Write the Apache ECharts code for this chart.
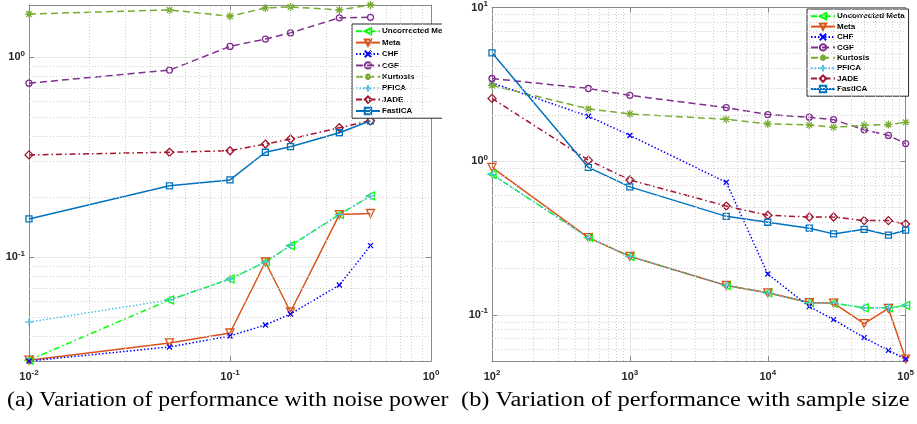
<!DOCTYPE html>
<html><head><meta charset="utf-8">
<script src="https://cdn.jsdelivr.net/npm/echarts@6/dist/echarts.min.js"></script>
<style>html,body{margin:0;padding:0;background:#fff}#c{width:917px;height:424px}</style>
</head><body><div id="c"></div>
<script>
// ---------- data ----------
const seriesNames = ['Uncorrected Meta','Meta','CHF','CGF','Kurtosis','PFICA','JADE','FastICA'];

// (a) noise power
const noiseX = [0.01, 0.05, 0.1, 0.15, 0.2, 0.35, 0.5];
const uncorrA = [0.0305, 0.061, 0.0776, 0.0944, 0.114, 0.163, 0.202];
const metaA   = [0.0305, 0.0372, 0.0417, 0.0944, 0.0531, 0.163, 0.165];
const chfA    = [0.0302, 0.0355, 0.0403, 0.0457, 0.0519, 0.0724, 0.114];
const cgfA    = [0.74, 0.86, 1.13, 1.23, 1.32, 1.57, 1.58];
const kurtA   = [1.64, 1.72, 1.60, 1.76, 1.78, 1.72, 1.82];
const pficaA  = [0.0473, 0.061, 0.0776, 0.0944, 0.114, 0.163, 0.202];
const jadeA   = [0.324, 0.334, 0.34, 0.367, 0.389, 0.443, 0.48];
const fastA   = [0.155, 0.227, 0.243, 0.334, 0.356, 0.418, 0.48];

// (b) sample size
const sampleX = [100, 500, 1000, 5000, 10000, 20000, 30000, 50000, 75000, 100000];
const uncorrB = [0.82, 0.318, 0.24, 0.155, 0.139, 0.12, 0.119, 0.111, 0.111, 0.115];
const metaB   = [0.91, 0.318, 0.24, 0.155, 0.139, 0.12, 0.119, 0.0875, 0.110, 0.0515];
const chfB    = [3.23, 1.96, 1.47, 0.728, 0.184, 0.113, 0.093, 0.071, 0.0586, 0.0515];
const cgfB    = [3.45, 2.97, 2.68, 2.23, 2.01, 1.93, 1.86, 1.60, 1.47, 1.30];
const kurtB   = [3.11, 2.19, 2.03, 1.87, 1.75, 1.72, 1.66, 1.71, 1.73, 1.79];
const pficaB  = [0.82, 0.318, 0.24, 0.155, 0.139, 0.12, 0.119, 0.111, 0.111, 0.115];
const jadeB   = [2.56, 1.015, 0.754, 0.51, 0.444, 0.433, 0.433, 0.41, 0.41, 0.39];
const fastB   = [5.07, 0.91, 0.68, 0.437, 0.40, 0.366, 0.336, 0.36, 0.33, 0.355];

const captionA = '(a) Variation of performance with noise power';
const captionB = '(b) Variation of performance with sample size';

// ---------- styles ----------
const SANS = '"Liberation Sans", Arial, sans-serif';
const SERIF = '"Liberation Serif", "Times New Roman", serif';
const X_PATH = 'path://M0,0L10,10M10,0L0,10';
const PLUS_PATH = 'path://M5,0L5,10M0,5L10,5';
const STAR_PATH = 'path://M5,0L5,10M0,5L10,5M1.5,1.5L8.5,8.5M8.5,1.5L1.5,8.5';
const styles = {
  'Uncorrected Meta': {color:'#00ff00', dash:[6,3,1.5,3], symbol:'triangle', rot:90, size:8},
  'Meta':     {color:'#d95319', dash:'solid', symbol:'triangle', rot:180, size:8},
  'CHF':      {color:'#0000ff', dash:[1.5,2], symbol:X_PATH, rot:0, size:5},
  'CGF':      {color:'#7e2f8e', dash:[7,4], symbol:'circle', rot:0, size:6},
  'Kurtosis': {color:'#77ac30', dash:[7,4], symbol:STAR_PATH, rot:0, size:8},
  'PFICA':    {color:'#4dbeee', dash:[1.5,2], symbol:PLUS_PATH, rot:0, size:8},
  'JADE':     {color:'#a2142f', dash:[6,3,1.5,3], symbol:'diamond', rot:0, size:8},
  'FastICA':  {color:'#0072bd', dash:'solid', symbol:'rect', rot:0, size:6}
};
const dataA = [uncorrA, metaA, chfA, cgfA, kurtA, pficaA, jadeA, fastA];
const dataB = [uncorrB, metaB, chfB, cgfB, kurtB, pficaB, jadeB, fastB];

function mkSeries(name, xs, ys, gi) {
  const s = styles[name];
  return {
    type:'line', name, xAxisIndex: gi*2, yAxisIndex: gi*2,
    data: xs.map((x,i)=>[x, ys[i]]),
    symbol: s.symbol, symbolSize: s.size, symbolRotate: s.rot, showAllSymbol: true,
    color: s.color,
    lineStyle: {color: s.color, width: 1.5, type: s.dash},
    itemStyle: {color: 'rgba(255,255,255,0)', borderColor: s.color, borderWidth: 1.3},
    emphasis: {disabled: true}, animation: false, clip: false
  };
}

function minorVals(lo, hi) {
  const out = [];
  for (let e = Math.floor(Math.log10(lo)); e <= Math.ceil(Math.log10(hi)); e++) {
    for (let k = 2; k <= 9; k++) {
      const v = k * Math.pow(10, e);
      if (v > lo * 1.001 && v < hi * 0.999) out.push(+v.toPrecision(6));
    }
  }
  return out;
}

const ext = {
  ax: [0.01, 1], ay: [0.0302, 1.82],
  bx: [100, 100000], by: [0.05, 10]
};

function gridSeries(gi, xr, yr) {
  return {
    type:'line', name:'_grid'+gi, xAxisIndex: gi*2, yAxisIndex: gi*2, data: [],
    silent: true, animation:false, z: 0,
    markLine: {
      silent: true, symbol: 'none', animation: false, label: {show:false},
      lineStyle: {type:[1,2], color:'#cfcfcf', width:1},
      emphasis: {disabled:true},
      data: minorVals(xr[0], xr[1]).map(v=>({xAxis:v})).concat(minorVals(yr[0], yr[1]).map(v=>({yAxis:v})))
    }
  };
}

const labelRich = {
  b: {fontSize: 11, fontWeight: 'bold', color: '#262626', fontFamily: SANS},
  s: {fontSize: 8, fontWeight: 'bold', color: '#262626', fontFamily: SANS, padding: [0,0,7,0]}
};
const fmt = v => '{b|10}{s|' + Math.round(Math.log10(v)) + '}';
const lineC = '#8a8a8a';

function mkX(gi, r, top) {
  return {
    type:'log', gridIndex: gi, min: r[0], max: r[1], position: top ? 'top' : 'bottom',
    axisLine: {show: true, onZero: false, lineStyle: {color: lineC, width: 1}},
    axisTick: {show: true, inside: true, length: 5, lineStyle: {color: lineC}},
    axisLabel: {show: !top, margin: 8, formatter: fmt, rich: labelRich, showMinLabel: true, showMaxLabel: true},
    splitLine: {show: !top, lineStyle: {color: '#e6e6e6', width: 1}},
    minorTick: {show:false}, minorSplitLine: {show:false}
  };
}
function mkY(gi, r, right, showMax) {
  return {
    type:'log', gridIndex: gi, min: r[0], max: r[1], position: right ? 'right' : 'left',
    axisLine: {show: true, onZero: false, lineStyle: {color: lineC, width: 1}},
    axisTick: {show: true, inside: true, length: 5, lineStyle: {color: lineC}},
    axisLabel: {show: !right, margin: 4, formatter: fmt, rich: labelRich, showMinLabel: false, showMaxLabel: showMax},
    splitLine: {show: !right, lineStyle: {color: '#e6e6e6', width: 1}},
    minorTick: {show:false}, minorSplitLine: {show:false}
  };
}

const series = [gridSeries(0, ext.ax, ext.ay), gridSeries(1, ext.bx, ext.by)];
seriesNames.forEach((n,i)=>series.push(mkSeries(n, noiseX, dataA[i], 0)));
seriesNames.forEach((n,i)=>series.push(mkSeries(n, sampleX, dataB[i], 1)));

const legendBase = {
  orient: 'vertical', data: seriesNames, backgroundColor: '#fff',
  borderColor: '#262626', borderWidth: 1, borderRadius: 0,
  itemWidth: 24, itemHeight: 8, selectedMode: false,
  textStyle: {fontSize: 8, fontWeight: 'bold', color: '#000', fontFamily: SANS, padding: [0,0,0,-3]}
};

const option = {
  animation: false,
  backgroundColor: '#fff',
  grid: [
    {left: 29, right: 917-431, top: 5, bottom: 424-361, containLabel: false},
    {left: 492, right: 917-911, top: 5, bottom: 424-361, containLabel: false}
  ],
  xAxis: [mkX(0, ext.ax, false), mkX(0, ext.ax, true), mkX(1, ext.bx, false), mkX(1, ext.bx, true)],
  yAxis: [mkY(0, ext.ay, false, false), mkY(0, ext.ay, true, false), mkY(1, ext.by, false, true), mkY(1, ext.by, true, true)],
  legend: [
    Object.assign({}, legendBase, {left: 352, top: 24, itemGap: 3, padding: [3,4,3,3]}),
    Object.assign({}, legendBase, {left: 807, top: 9, itemGap: 2, padding: [3,4,3,3]})
  ],
  graphic: [
    // the left panel is cropped at its right edge in the reference (clips the legend)
    {type:'rect', z: 100, shape: {x: 442, y: 0, width: 18, height: 380}, style: {fill: '#fff'}, silent: true},
    {type:'text', z: 101, x: 7, y: 391, scaleX: 1.19, style: {text: captionA, font: '20px ' + SERIF, fill: '#000'}},
    {type:'text', z: 101, x: 461, y: 391, scaleX: 1.22, style: {text: captionB, font: '20px ' + SERIF, fill: '#000'}}
  ],
  series
};
const chart = echarts.init(document.getElementById('c'), null, {renderer: 'canvas'});
chart.setOption(option);
</script></body></html>
